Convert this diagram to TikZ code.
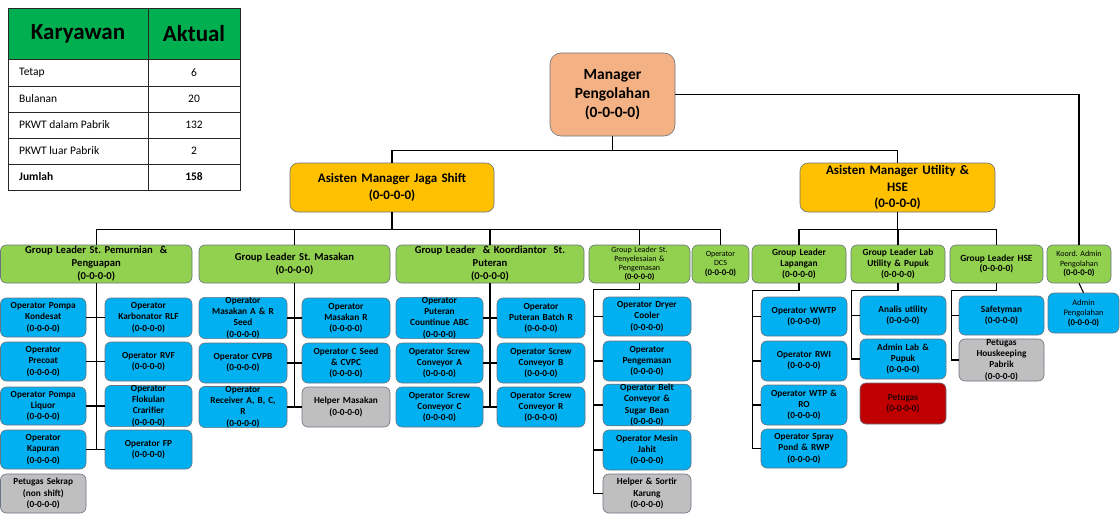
\documentclass[tikz,border=0pt]{standalone}
\usepackage{fontspec}
\setmainfont{Carlito}
\usetikzlibrary{calc}
\definecolor{glg}{HTML}{92D050}
\definecolor{opb}{HTML}{00B0F0}
\definecolor{hlp}{HTML}{BFBFBF}
\definecolor{redb}{HTML}{C00000}
\definecolor{asy}{HTML}{FFC000}
\definecolor{mgo}{HTML}{F4B183}
\definecolor{thg}{HTML}{00B050}
\definecolor{bd}{HTML}{6A7480}
\newcommand\bx[7]{%
 \pgfmathsetmacro\bxw{#4-#2}\pgfmathsetmacro\bxh{#5-#3}\pgfmathsetmacro\bxt{#4-#2-4}%
 \node[#6, minimum width=\bxw pt, minimum height=\bxh pt, text width=\bxt pt] (#1) at ({(#2+#4)/2},{(#3+#5)/2}) {#7};}
\tikzset{
 box/.style={draw=bd, line width=0.6pt, rounded corners=6pt, align=center, inner xsep=2pt, inner ysep=0pt, text=black},
 mgr/.style={box, fill=mgo, rounded corners=11pt, font=\bfseries\fontsize{15.5}{19}\selectfont},
 as/.style={box, fill=asy, rounded corners=8pt, font=\bfseries\fontsize{13}{16.5}\selectfont},
 gl/.style={box, fill=glg, font=\bfseries\fontsize{10.6}{13}\selectfont},
 glm/.style={box, fill=glg, font=\bfseries\fontsize{9.4}{10.8}\selectfont},
 gls/.style={box, fill=glg, font=\fontsize{8}{9.2}\selectfont},
 op/.style={box, fill=opb, font=\bfseries\fontsize{9.3}{11.2}\selectfont},
 ops/.style={box, fill=opb, font=\fontsize{8.4}{10}\selectfont},
 hl/.style={op, fill=hlp},
 rd/.style={op, fill=redb, text={black!80!redb}},
 ln/.style={draw=black, line width=1.1pt},
 tb/.style={draw=black!85, line width=0.9pt},
 tt/.style={inner sep=0pt, font=\fontsize{11.5}{13}\selectfont},
 th/.style={inner sep=0pt, font=\bfseries\fontsize{23}{27}\selectfont}
}
\begin{document}
\frenchspacing
\begin{tikzpicture}[x=1pt,y=-1pt]
\useasboundingbox (0,0) rectangle (1120,514);
\fill[white] (0,0) rectangle (1120,514);
% table
\fill[thg] (8,8) rectangle (240,59);
\draw[tb] (8,8) rectangle (240,190);
\draw[tb] (148,8) -- (148,190);
\foreach \yy in {59,86,112,138,164} \draw[tb] (8,\yy) -- (240,\yy);
\node[th] (hk) at (78,33.5) {Karyawan};
\node[th] (ha) at (194,33.5) {Aktual};
\node[tt,anchor=west] (t1) at (19,72.5) {Tetap};
\node[tt] (v1) at (194,72.5) {6};
\node[tt,anchor=west] (t2) at (19,99) {Bulanan};
\node[tt] (v2) at (194,99) {20};
\node[tt,anchor=west] (t3) at (19,125) {PKWT dalam Pabrik};
\node[tt] (v3) at (194,125) {132};
\node[tt,anchor=west] (t4) at (19,151) {PKWT luar Pabrik};
\node[tt] (v4) at (194,151) {2};
\node[tt,anchor=west,font=\bfseries\fontsize{11.5}{13}\selectfont] (t5) at (19,177) {Jumlah};
\node[tt,font=\bfseries\fontsize{11.5}{13}\selectfont] (v5) at (194,177) {158};
% top
\bx{mgr}{550}{53}{675}{136}{mgr}{Manager\\Pengolahan\\(0-0-0-0)}
\bx{asj}{290}{163}{494}{212}{as}{Asisten Manager Jaga Shift\\(0-0-0-0)}
\bx{asu}{800}{163}{995}{212}{as}{Asisten Manager Utility \&\\HSE\\(0-0-0-0)}
% group leaders
\bx{gla}{0.5}{245}{192}{283}{gl}{Group Leader St. Pemurnian\ \ \&\\Penguapan\\(0-0-0-0)}
\bx{glb}{199}{245}{390}{283}{gl}{Group Leader St. Masakan\\(0-0-0-0)}
\bx{glc}{396}{245}{584}{283}{gl}{Group Leader\ \ \& Koordiantor\ \ St.\\Puteran\\(0-0-0-0)}
\bx{gld}{589}{245}{690}{283}{gls}{Group Leader St.\\Penyelesaian \&\\Pengemasan\\{\bfseries\fontsize{8.4}{9.2}\selectfont (0-0-0-0)}}
\bx{dcs}{692}{245}{749}{283}{gls}{Operator\\DCS\\{\bfseries\fontsize{8.8}{10.5}\selectfont (0-0-0-0)}}
\bx{lap}{752}{245}{846}{283}{glm}{Group Leader\\Lapangan\\(0-0-0-0)}
\bx{lab}{851}{245}{945}{283}{glm}{Group Leader Lab\\Utility \& Pupuk\\(0-0-0-0)}
\bx{hse}{950}{245}{1043}{283}{glm}{Group Leader HSE\\(0-0-0-0)}
\bx{koo}{1047}{245}{1111}{283}{gls}{Koord. Admin\\Pengolahan\\{\bfseries\fontsize{8.8}{10.5}\selectfont (0-0-0-0)}}
% pemurnian
\bx{a11}{0.5}{298}{86}{337}{op}{Operator Pompa\\Kondesat\\(0-0-0-0)}
\bx{a12}{0.5}{342}{86}{381}{op}{Operator\\Precoat\\(0-0-0-0)}
\bx{a13}{0.5}{387}{86}{425}{op}{Operator Pompa\\Liquor\\(0-0-0-0)}
\bx{a14}{0.5}{430}{86}{469}{op}{Operator\\Kapuran\\(0-0-0-0)}
\bx{a15}{0.5}{474}{86}{513}{hl}{Petugas Sekrap\\(non shift)\\(0-0-0-0)}
\bx{a21}{105}{298}{192}{337}{op}{Operator\\Karbonator RLF\\(0-0-0-0)}
\bx{a22}{105}{342}{192}{381}{op}{Operator RVF\\(0-0-0-0)}
\bx{a23}{105}{387}{192}{425}{op}{Operator\\Flokulan\\Crarifier\\(0-0-0-0)}
\bx{a24}{105}{430}{192}{469}{op}{Operator FP\\(0-0-0-0)}
% masakan
\bx{b11}{199}{298}{287}{338}{op}{Operator\\Masakan A \& R\\Seed\\(0-0-0-0)}
\bx{b12}{199}{343}{287}{383}{op}{Operator CVPB\\(0-0-0-0)}
\bx{b13}{199}{387}{287}{427}{op}{Operator\\Receiver A, B, C,\\R\\(0-0-0-0)}
\bx{b21}{302}{298}{390}{338}{op}{Operator\\Masakan R\\(0-0-0-0)}
\bx{b22}{302}{343}{390}{383}{op}{Operator C Seed\\\& CVPC\\(0-0-0-0)}
\bx{b23}{302}{387}{390}{427}{hl}{Helper Masakan\\(0-0-0-0)}
% puteran
\bx{c11}{396}{298}{483}{338}{op}{Operator\\Puteran\\Countinue ABC\\(0-0-0-0)}
\bx{c12}{396}{343}{483}{383}{op}{Operator Screw\\Conveyor A\\(0-0-0-0)}
\bx{c13}{396}{387}{483}{427}{op}{Operator Screw\\Conveyor C\\(0-0-0-0)}
\bx{c21}{497}{298}{585}{338}{op}{Operator\\Puteran Batch R\\(0-0-0-0)}
\bx{c22}{497}{343}{585}{383}{op}{Operator Screw\\Conveyor B\\(0-0-0-0)}
\bx{c23}{497}{387}{585}{427}{op}{Operator Screw\\Conveyor R\\(0-0-0-0)}
% penyelesaian
\bx{d1}{603}{297}{691}{336}{op}{Operator Dryer\\Cooler\\(0-0-0-0)}
\bx{d2}{603}{341}{691}{381}{op}{Operator\\Pengemasan\\(0-0-0-0)}
\bx{d3}{603}{385}{691}{425}{op}{Operator Belt\\Conveyor \&\\Sugar Bean\\(0-0-0-0)}
\bx{d4}{603}{430}{691}{470}{op}{Operator Mesin\\Jahit\\(0-0-0-0)}
\bx{d5}{603}{474}{691}{513}{hl}{Helper \& Sortir\\Karung\\(0-0-0-0)}
% lapangan
\bx{e1}{761}{297}{847}{336}{op}{Operator WWTP\\(0-0-0-0)}
\bx{e2}{761}{341}{847}{381}{op}{Operator RWI\\(0-0-0-0)}
\bx{e3}{761}{385}{847}{425}{op}{Operator WTP \&\\RO\\(0-0-0-0)}
\bx{e4}{761}{429}{847}{468}{op}{Operator Spray\\Pond \& RWP\\(0-0-0-0)}
% lab
\bx{f1}{860}{296}{946}{335}{op}{Analis utility\\(0-0-0-0)}
\bx{f2}{860}{339}{946}{379}{op}{Admin Lab \&\\Pupuk\\(0-0-0-0)}
\bx{f3}{860}{383}{946}{424}{rd}{Petugas\\(0-0-0-0)}
% hse
\bx{g1}{959}{296}{1044}{335}{op}{Safetyman\\(0-0-0-0)}
\bx{g2}{959}{339}{1044}{381}{hl}{Petugas\\Houskeeping\\Pabrik\\(0-0-0-0)}
% admin
\bx{adm}{1048}{293}{1119}{333}{ops}{Admin\\Pengolahan\\{\bfseries\fontsize{8.8}{10.5}\selectfont (0-0-0-0)}}
% connectors
\draw[ln] (mgr.south) -- ++(0,14) -| (asj.north);
\draw[ln] (mgr.south) ++(0,14) -| (asu.north);
\draw[ln] (mgr.east) -| (koo.north);
\draw[ln] (koo.south) -- (adm.north);
\draw[ln] (asj.south) -- ++(0,18);
\draw[ln] (gla.north) -- ++(0,-15) -| (dcs.north);
\draw[ln] (glb.north) -- ++(0,-15);
\draw[ln] (glc.north) -- ++(0,-15);
\draw[ln] (gld.north) -- ++(0,-15);
\draw[ln] (asu.south) -- ++(0,18);
\draw[ln] (lap.north) -- ++(0,-15) -| (hse.north);
\draw[ln] (lab.north) -- ++(0,-15);
% pemurnian
\draw[ln] (gla.south) -- (gla.south |- a14.east);
\foreach \i in {1,2,3,4} \draw[ln] (a1\i.east) -- (a2\i.west);
% masakan
\draw[ln] (glb.south) -- (glb.south |- b13.east);
\foreach \i in {1,2,3} \draw[ln] (b1\i.east) -- (b2\i.west);
% puteran
\draw[ln] (glc.south) -- (glc.south |- c13.east);
\foreach \i in {1,2,3} \draw[ln] (c1\i.east) -- (c2\i.west);
% penyelesaian
\draw[ln] (gld.south) -- ++(0,6) -| ($(d5.west)+(-9,0)$) -- (d5.west);
\foreach \i in {1,2,3,4} \draw[ln] (d\i.west) -- ++(-9,0);
% lapangan
\draw[ln] (lap.south) -- ++(0,7) -| ($(e4.west)+(-8,0)$) -- (e4.west);
\foreach \i in {1,2,3} \draw[ln] (e\i.west) -- ++(-8,0);
% lab
\draw[ln] (lab.south) -- ++(0,7) -| ($(f2.west)+(-8,0)$) -- (f2.west);
\draw[ln] (f1.west) -- ++(-8,0);
% hse
\draw[ln] (hse.south) -- ++(0,7) -| ($(g2.west)+(-7,0)$) -- (g2.west);
\draw[ln] (g1.west) -- ++(-7,0);
\end{tikzpicture}
\end{document}
